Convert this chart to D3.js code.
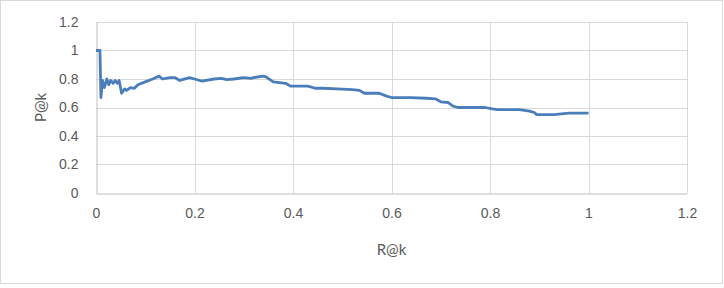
<!DOCTYPE html>
<html>
<head>
<meta charset="utf-8">
<script src="https://cdn.jsdelivr.net/npm/d3@7"></script>
<style>
  body { margin: 0; background: #fff; }
  svg { display: block; font-family: Lato, "Open Sans", sans-serif; }
</style>
</head>
<body>
<svg id="chart" width="724" height="288"></svg>
<script>
// recall / precision
const recall = [0, 0.008, 0.010, 0.013, 0.017, 0.022, 0.026, 0.030, 0.035, 0.039, 0.043, 0.047,
  0.052, 0.058, 0.062, 0.070, 0.078, 0.085, 0.100, 0.115, 0.128, 0.135, 0.150, 0.160, 0.170,
  0.190, 0.200, 0.215, 0.240, 0.255, 0.265, 0.280, 0.300, 0.315, 0.320, 0.340, 0.345, 0.360,
  0.385, 0.395, 0.430, 0.445, 0.460, 0.490, 0.520, 0.535, 0.545, 0.575, 0.590, 0.600, 0.640,
  0.670, 0.690, 0.700, 0.715, 0.725, 0.735, 0.790, 0.805, 0.815, 0.860, 0.880, 0.890, 0.895,
  0.930, 0.960, 1.000];
const precision = [1.00, 1.00, 0.67, 0.79, 0.74, 0.80, 0.76, 0.79, 0.77, 0.79, 0.77, 0.79,
  0.70, 0.73, 0.72, 0.74, 0.735, 0.76, 0.78, 0.80, 0.82, 0.80, 0.81, 0.81, 0.79,
  0.81, 0.80, 0.785, 0.80, 0.805, 0.795, 0.80, 0.81, 0.805, 0.81, 0.82, 0.815, 0.78,
  0.77, 0.75, 0.75, 0.735, 0.735, 0.73, 0.725, 0.72, 0.70, 0.70, 0.68, 0.67, 0.67,
  0.665, 0.66, 0.64, 0.635, 0.61, 0.60, 0.60, 0.59, 0.585, 0.585, 0.575, 0.565, 0.55,
  0.55, 0.56, 0.56];
const xTicks = [0, 0.2, 0.4, 0.6, 0.8, 1, 1.2];
const yTicks = [0, 0.2, 0.4, 0.6, 0.8, 1, 1.2];

const svg = d3.select("#chart");
const textColor = "#595959";

// chart area border
svg.append("rect")
  .attr("x", 0.5).attr("y", 0.5)
  .attr("width", 722).attr("height", 283)
  .attr("fill", "#fff")
  .attr("stroke", "#d9d9d9");

const x = d3.scaleLinear().domain([0, 1.2]).range([96, 687]);
const y = d3.scaleLinear().domain([0, 1.2]).range([193, 22]);

// gridlines
svg.append("g")
  .selectAll("line.v")
  .data(xTicks.slice(1))
  .enter().append("line")
  .attr("x1", d => Math.round(x(d)) + 0.5).attr("x2", d => Math.round(x(d)) + 0.5)
  .attr("y1", y(1.2)).attr("y2", y(0))
  .attr("stroke", "#d9d9d9");
svg.append("g")
  .selectAll("line.h")
  .data(yTicks.slice(1))
  .enter().append("line")
  .attr("x1", x(0)).attr("x2", x(1.2))
  .attr("y1", d => Math.round(y(d)) + 0.5).attr("y2", d => Math.round(y(d)) + 0.5)
  .attr("stroke", "#d9d9d9");

// axes
const xAxis = svg.append("g")
  .attr("transform", `translate(0,${Math.round(y(0)) + 0.5})`)
  .call(d3.axisBottom(x).tickValues(xTicks).tickSize(0).tickPadding(15).tickFormat(d3.format("~g")));
const yAxis = svg.append("g")
  .attr("transform", `translate(${Math.round(x(0)) + 0.5},0)`)
  .call(d3.axisLeft(y).tickValues(yTicks).tickSize(0).tickPadding(18).tickFormat(d3.format("~g")));

[xAxis, yAxis].forEach(a => {
  a.select(".domain").attr("stroke", "#bfbfbf");
  a.selectAll("text").attr("fill", textColor).style("font-size", "14px");
});

// P@k curve
const line = d3.line()
  .x((d, i) => x(recall[i]))
  .y(d => y(d));

svg.append("path")
  .datum(precision)
  .attr("d", line)
  .attr("fill", "none")
  .attr("stroke", "#4a7ebb")
  .attr("stroke-width", 2.8)
  .attr("stroke-linejoin", "round");

// axis titles
svg.append("text")
  .attr("x", x(0.6)).attr("y", 255)
  .attr("text-anchor", "middle")
  .attr("fill", textColor)
  .style("font-size", "15px")
  .text("R@k");
svg.append("text")
  .attr("transform", `translate(46,${y(0.6)}) rotate(-90)`)
  .attr("text-anchor", "middle")
  .attr("fill", textColor)
  .style("font-size", "15px")
  .text("P@k");
</script>
</body>
</html>
